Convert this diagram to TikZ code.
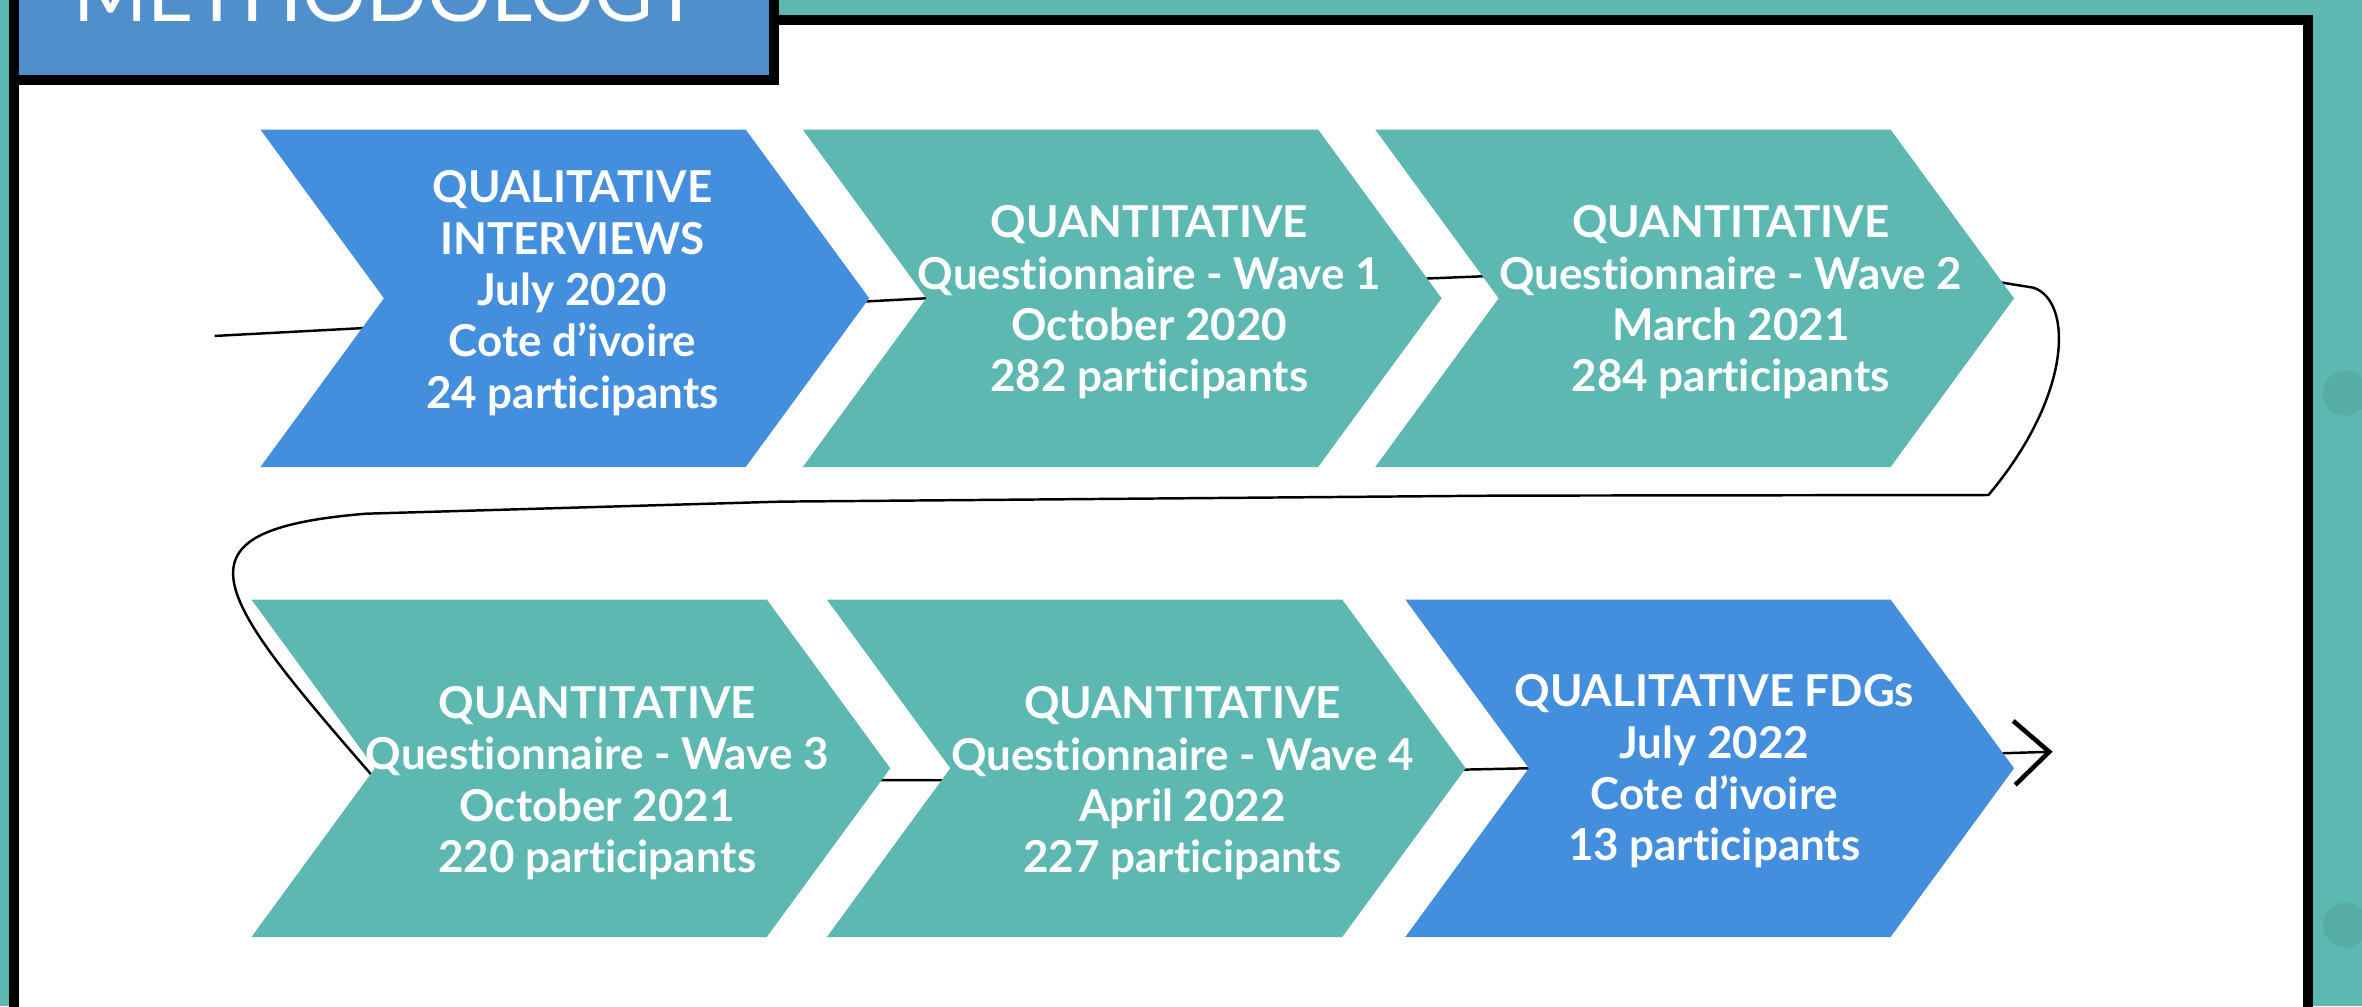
\documentclass[tikz,border=0pt]{standalone}
\usepackage{fontspec}
\setmainfont{Lato}[Ligatures=NoCommon]
\usetikzlibrary{shapes.symbols,arrows.meta}

\definecolor{sea}{HTML}{5DB8B2}
\definecolor{spot}{HTML}{57ACA6}
\definecolor{slate}{HTML}{4F8FCC}
\definecolor{sky}{HTML}{448EDE}

\pgfdeclarelayer{back}
\pgfdeclarelayer{links}
\pgfsetlayers{back,links,main}

\tikzset{
  chev/.style={signal, signal from=west, signal to=east, signal pointer angle=107.6,
    minimum height=3.374cm, inner sep=0pt, outer sep=0pt, anchor=east},
  qual/.style={chev, fill=sky, minimum width=6.086cm},
  quant/.style={chev, fill=sea, minimum width=6.387cm},
  txt/.style={text=white, font=\bfseries\fontsize{12.5}{14.6}\selectfont, align=center},
  flow/.style={line width=0.7pt},
}

\begin{document}
\begin{tikzpicture}[x=0.015064cm, y=-0.015064cm]
            \useasboundingbox (0,0) rectangle (1568,668);
            \clip (0,0) rectangle (1568,668);

            \begin{pgfonlayer}{back}
            \fill[sea] (0,0) rectangle (1568,668);
            \fill[spot] (1557,261) circle (15);
            \fill[spot] (1557,614) circle (15);
            \draw[line width=0.104cm, fill=white] (9.15,13.2) rectangle (1532.1,720);
            \draw[line width=0.104cm, fill=slate] (9.15,-40) rectangle (514,53.1);
            \end{pgfonlayer}
            \node[anchor=base west, inner sep=0pt, text=white, font=\fontsize{22.8}{27}\selectfont] (title) at (48,14) {METHODOLOGY};

            % first row
            \node[qual] (c1) at (577,198) {};
            \node[quant] (c2) at (957,198) {};
            \node[quant] (c3) at (1337,198) {};
            % second row
            \node[quant] (c4) at (591,510) {};
            \node[quant] (c5) at (973,510) {};
            \node[qual] (c6) at (1337,510) {};

            \node[txt] (t1) at (380,194.5) {QUALITATIVE\\INTERVIEWS\\July 2020\\Cote d’ivoire\\24 participants};
            \node[txt] (t2) at (763,200.75) {QUANTITATIVE\\Questionnaire - Wave 1\\October 2020\\282 participants};
            \node[txt] (t3) at (1149,200.75) {QUANTITATIVE\\Questionnaire - Wave 2\\March 2021\\284 participants};
            \node[txt] (t4) at (396.5,519.75) {QUANTITATIVE\\Questionnaire - Wave 3\\October 2021\\220 participants};
            \node[txt] (t5) at (785,520) {QUANTITATIVE\\Questionnaire - Wave 4\\April 2022\\227 participants};
            \node[txt] (t6) at (1138,512) {QUALITATIVE FDGs\\July 2022\\Cote d’ivoire\\13 participants};

            \coordinate (start) at (142.5,223);
            \coordinate (finish) at (1362.6,499);

            \begin{pgfonlayer}{links}
            \draw[flow] (start) -- (c2.west) -- ([yshift=0.226cm]c3.west) -- (1329,187.6) -- (1350,191)
                .. controls (1376,200) and (1376,262) .. (1320,328.6)
                -- (996,329) -- (518,333) -- (243,341)
                .. controls (110,352) and (140,392) .. ([yshift=-0.105cm]c4.west)
                -- ([yshift=-0.12cm]c5.west) -- (c6.west);
            \draw[flow, -{Straight Barb[length=0.35cm, width=0.64cm, line width=1.3pt]}] (c6.west) -- (finish);
            \end{pgfonlayer}
\end{tikzpicture}
\end{document}
